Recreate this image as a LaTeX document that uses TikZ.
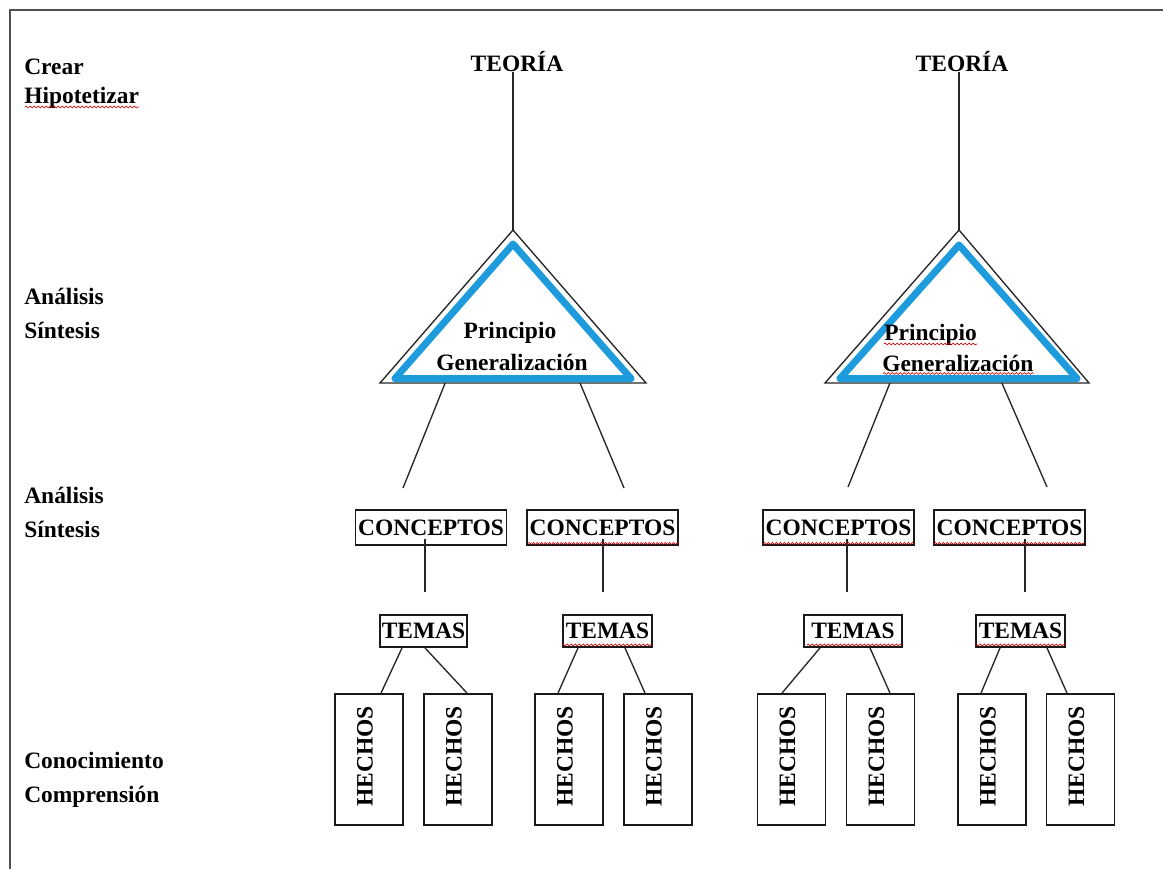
\documentclass[tikz,border=0pt]{standalone}
\usepackage{fontspec}
\setmainfont{Liberation Serif}
\usetikzlibrary{calc,decorations.pathmorphing}
\definecolor{tblue}{RGB}{30,155,220}
\definecolor{framegray}{RGB}{80,80,80}
\begin{document}
\begin{tikzpicture}[x=0.75pt,y=-0.75pt,
  txt/.style={font=\bfseries\fontsize{17.6}{20}\selectfont, inner sep=0pt, text=black},
  lbl/.style={txt, anchor=base west},
  ttl/.style={txt, anchor=base},
  bx/.style={txt, draw=black!90, line width=1.4pt},
  cbox/.style={bx, minimum width=113.25pt, minimum height=26.25pt},
  tbox/.style={bx, minimum height=24pt},
  hbox/.style={draw=black!90, line width=1.4pt, inner sep=0pt, minimum width=51pt, minimum height=98.25pt},
  htxt/.style={txt, rotate=90},
  cn/.style={line width=1pt, draw=black!85},
  tri/.style={line width=1pt, draw=black!85},
  btri/.style={draw=tblue, line width=5.25pt, line join=round},
  sq/.style={draw=red!80!black, line width=0.5pt, decorate, decoration={snake, amplitude=0.7pt, segment length=3pt}}
]
\useasboundingbox (0,0) rectangle (1163,869);
\fill[white] (0,0) rectangle (1163,869);
% frame
\draw[framegray, line width=1.9pt] (10,869) -- (10,10) -- (1163,10);

% left labels
\node[lbl] (l1) at (24,74) {Crear};
\node[lbl] (l2) at (24,103) {Hipotetizar};
\node[lbl] (l3) at (24,304) {Análisis};
\node[lbl] (l4) at (24,338) {Síntesis};
\node[lbl] (l5) at (24,503) {Análisis};
\node[lbl] (l6) at (24,537) {Síntesis};
\node[lbl] (l7) at (24,768) {Conocimiento};
\node[lbl] (l8) at (24,802) {Comprensión};

% titles
\node[ttl] (te1) at (517,71) {TEORÍA};
\node[ttl] (te2) at (962,71) {TEORÍA};

% triangles
\coordinate (T1a) at (513,230);
\coordinate (T1l) at (380,383);
\coordinate (T1r) at (646,383);
\coordinate (T2a) at (959,230);
\coordinate (T2l) at (825,383);
\coordinate (T2r) at (1089,383);
\coordinate (B1a) at (513,244);
\coordinate (B1l) at (395,378.5);
\coordinate (B1r) at (631,378.5);
\coordinate (B2a) at (959,245);
\coordinate (B2l) at (840,378.5);
\coordinate (B2r) at (1077,378.5);

\draw[tri] (T1a) -- (T1l) -- (T1r) -- cycle;
\draw[tri] (T2a) -- (T2l) -- (T2r) -- cycle;
\draw[btri] (B1a) -- (B1l) -- (B1r) -- cycle;
\draw[btri] (B2a) -- (B2l) -- (B2r) -- cycle;

\node[ttl] (p1) at (510,338) {Principio};
\node[ttl] (g1t) at (512,370) {Generalización};
\node[lbl] (p2) at (884,340) {Principio};
\node[lbl] (g2t) at (882,371) {Generalización};

% teoria to triangles
\draw[cn] (te1.south -| T1a) -- (T1a);
\draw[cn] (te2.south -| T2a) -- (T2a);

% concept boxes
\node[cbox] (c1) at (431,527.5) {CONCEPTOS};
\node[cbox] (c2) at (602.5,527.5) {CONCEPTOS};
\node[cbox] (c3) at (838.5,527.5) {CONCEPTOS};
\node[cbox] (c4) at (1009.5,527.5) {CONCEPTOS};

% triangle to concepts (free ends)
\coordinate (e1) at (403,488);
\coordinate (e2) at (624,488);
\coordinate (e3) at (848,487);
\coordinate (e4) at (1047,487);
\draw[cn] ($(T1l)!0.245!(T1r)$) -- (e1);
\draw[cn] ($(T1l)!0.752!(T1r)$) -- (e2);
\draw[cn] ($(T2l)!0.246!(T2r)$) -- (e3);
\draw[cn] ($(T2l)!0.670!(T2r)$) -- (e4);

% temas boxes
\node[tbox, minimum width=65.25pt] (t1) at (423.5,631) {TEMAS};
\node[tbox, minimum width=66.75pt] (t2) at (607.5,631) {TEMAS};
\node[tbox, minimum width=73.5pt]  (t3) at (853,631) {TEMAS};
\node[tbox, minimum width=66.75pt] (t4) at (1020.5,631) {TEMAS};

% concepts to temas (free ends)
\coordinate (f1) at (425,592);
\coordinate (f2) at (603,592);
\coordinate (f3) at (847,592);
\coordinate (f4) at (1025,592);
\draw[cn] (c1.south -| f1) ++(0,-7) -- (f1);
\draw[cn] (c2.south -| f2) ++(0,-7) -- (f2);
\draw[cn] (c3.south -| f3) ++(0,-7) -- (f3);
\draw[cn] (c4.south -| f4) ++(0,-7) -- (f4);

% hechos boxes
\node[hbox] (h1) at (369,759.5) {};
\node[hbox] (h2) at (458,759.5) {};
\node[hbox] (h3) at (569,759.5) {};
\node[hbox] (h4) at (658,759.5) {};
\node[hbox] (h5) at (791.5,759.5) {};
\node[hbox] (h6) at (880.5,759.5) {};
\node[hbox] (h7) at (992,759.5) {};
\node[hbox] (h8) at (1080.5,759.5) {};
\foreach \i in {1,...,8}{
  \node[htxt] (hl\i) at ($(h\i.center)+(-4,-3)$) {HECHOS};
}

% temas to hechos
\draw[cn] ($(t1.south)+(-21.5,0)$) -- ($(h1.north)+(12,0)$);
\draw[cn] ($(t1.south)+(1.5,0)$)   -- ($(h2.north)+(9,0)$);
\draw[cn] ($(t2.south)+(-29.5,0)$) -- ($(h3.north)+(-11,0)$);
\draw[cn] ($(t2.south)+(17.5,0)$)  -- ($(h4.north)+(-13,0)$);
\draw[cn] ($(t3.south)+(-33,0)$)   -- ($(h5.north)+(-9.5,0)$);
\draw[cn] ($(t3.south)+(17,0)$)    -- ($(h6.north)+(9.5,0)$);
\draw[cn] ($(t4.south)+(-20.5,0)$) -- ($(h7.north)+(-11,0)$);
\draw[cn] ($(t4.south)+(26.5,0)$)  -- ($(h8.north)+(-13.5,0)$);

% spell-check squiggles
\draw[sq] ($(l2.base west)+(1,4)$) -- ($(l2.base east)+(0,4)$);
\draw[sq] ($(c2.south west)+(2,-2.5)$) -- ($(c2.south east)+(0,-2.5)$);
\draw[sq] ($(c3.south west)+(1,-2.5)$) -- ($(c3.south east)+(-1,-2.5)$);
\draw[sq] ($(c4.south west)+(1,-2.5)$) -- ($(c4.south east)+(-2,-2.5)$);
\draw[sq] ($(t2.south west)+(0,-3)$) -- ($(t2.south east)+(0,-3)$);
\draw[sq] ($(t3.south west)+(4,-3)$) -- ($(t3.south east)+(0,-3)$);
\draw[sq] ($(t4.south west)+(0,-3)$) -- ($(t4.south east)+(0,-3)$);
\draw[sq] ($(p2.base west)+(0,4)$) -- ($(p2.base east)+(0,4)$);
\draw[sq] ($(g2t.base west)+(1,2.5)$) -- ($(g2t.base east)+(0,2.5)$);
\end{tikzpicture}
\end{document}
